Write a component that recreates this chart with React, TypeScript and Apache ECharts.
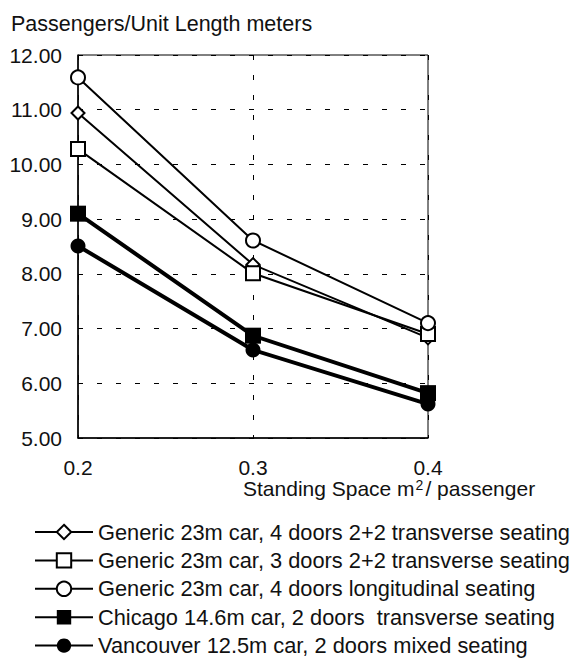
import React, { useEffect, useRef } from "react";
import * as echarts from "echarts";

const xValues = [0.2, 0.3, 0.4];
const seriesNames = [
  "Generic 23m car, 4 doors 2+2 transverse seating",
  "Generic 23m car, 3 doors 2+2 transverse seating",
  "Generic 23m car, 4 doors longitudinal seating",
  "Chicago 14.6m car, 2 doors  transverse seating",
  "Vancouver 12.5m car, 2 doors mixed seating",
];
const generic4Transverse = [10.94, 8.17, 6.83];
const generic3Transverse = [10.28, 8.01, 6.9];
const generic4Longitudinal = [11.59, 8.61, 7.1];
const chicago = [9.1, 6.87, 5.82];
const vancouver = [8.51, 6.61, 5.62];
const yTicks = [5, 6, 7, 8, 9, 10, 11, 12];

const FONT = "Liberation Sans, Arial, sans-serif";

export default function App() {
  const ref = useRef<HTMLDivElement>(null);
  useEffect(() => {
    if (!ref.current) return;
    const chart = echarts.init(ref.current, undefined, { renderer: "svg" });
    const mk = (
      name: string,
      data: number[],
      symbol: string,
      filled: boolean,
      width: number,
      size: number
    ) => ({
      name,
      type: "line",
      data: xValues.map((x, i) => [x, data[i]]),
      symbol,
      symbolSize: size,
      showAllSymbol: true,
      lineStyle: { color: "#000", width },
      itemStyle: {
        color: filled ? "#000" : "#fff",
        borderColor: "#000",
        borderWidth: filled ? 0 : 2,
      },
      emphasis: { disabled: true },
    });
    chart.setOption({
      animation: false,
      backgroundColor: "#fff",
      textStyle: { fontFamily: FONT },
      title: {
        text: "Passengers/Unit Length meters",
        left: 6,
        top: 8,
        textStyle: { fontFamily: FONT, fontSize: 21.5, fontWeight: "normal", color: "#111" },
      },
      grid: {
        left: 78,
        right: 149,
        top: 55,
        bottom: 220,
        show: true,
        borderColor: "#000",
        borderWidth: 1,
        backgroundColor: "transparent",
      },
      xAxis: {
        type: "value",
        min: 0.2,
        max: 0.4,
        interval: 0.1,
        axisLine: { show: true, lineStyle: { color: "#000", width: 1.5 } },
        axisTick: { show: false },
        axisLabel: {
          margin: 21,
          fontSize: 21,
          lineHeight: 16,
          color: "#111",
          fontFamily: FONT,
          formatter: (v: number) => v.toFixed(1),
        },
        splitLine: { show: true, lineStyle: { color: "#000", type: [5, 15], width: 1 } },
      },
      yAxis: {
        type: "value",
        min: yTicks[0],
        max: yTicks[yTicks.length - 1],
        interval: 1,
        axisLine: { show: true, lineStyle: { color: "#000", width: 1.5 } },
        axisTick: { show: false },
        axisLabel: {
          margin: 16,
          fontSize: 21,
          color: "#111",
          fontFamily: FONT,
          formatter: (v: number) => v.toFixed(2),
        },
        splitLine: { show: true, lineStyle: { color: "#000", type: [5, 14], width: 1 } },
      },
      legend: {
        orient: "vertical",
        left: 34,
        top: 521,
        height: 200,
        padding: 0,
        itemWidth: 58,
        itemHeight: 18,
        itemGap: 6.4,
        textStyle: { fontSize: 21.8, color: "#111", fontFamily: FONT },
        data: seriesNames,
      },
      graphic: [
        {
          type: "text",
          left: 243,
          top: 478,
          style: {
            text: "{a|Standing Space m}{s|2}{a|/ passenger}",
            fontFamily: FONT,
            fill: "#111",
            rich: {
              a: { fontSize: 21, fontFamily: FONT, fill: "#111", lineHeight: 21 },
              s: { fontSize: 14, fontFamily: FONT, fill: "#111", verticalAlign: "top", lineHeight: 21, padding: [0, 2, 0, 1] },
            },
          },
        },
      ],
      series: [
        mk(seriesNames[0], generic4Transverse, "diamond", false, 2, 13),
        mk(seriesNames[1], generic3Transverse, "rect", false, 2, 14),
        mk(seriesNames[2], generic4Longitudinal, "circle", false, 2, 14),
        mk(seriesNames[3], chicago, "rect", true, 4, 16),
        mk(seriesNames[4], vancouver, "circle", true, 4, 15),
      ],
    });
    return () => chart.dispose();
  }, []);
  return (
    <div
      ref={ref}
      style={{ position: "absolute", left: 0, top: 0, width: 577, height: 658 }}
    />
  );
}
